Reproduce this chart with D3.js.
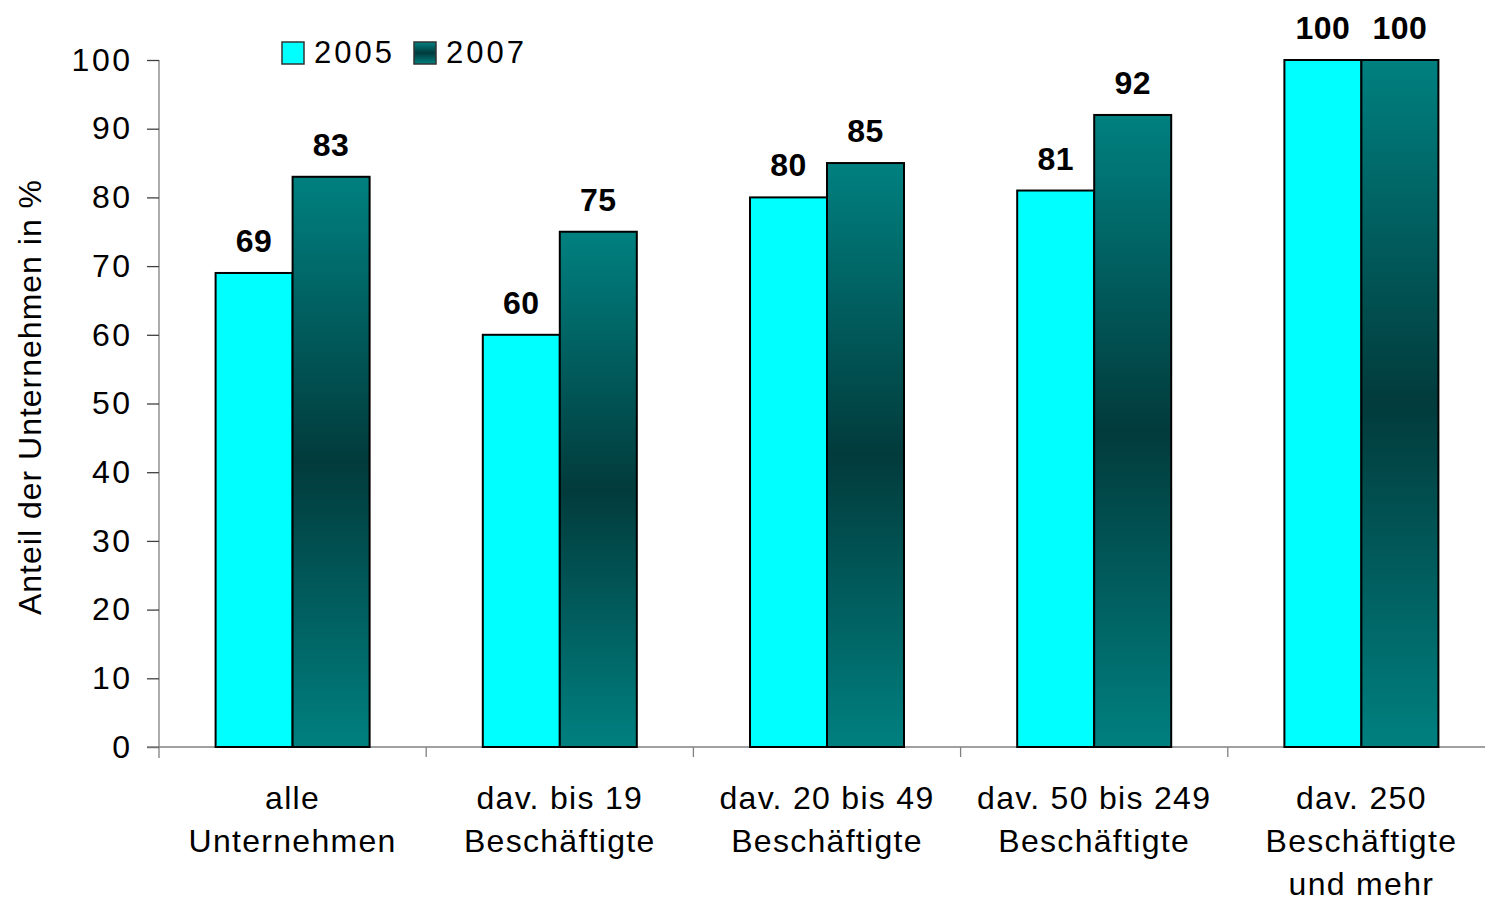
<!DOCTYPE html>
<html lang="de">
<head>
<meta charset="UTF-8">
<title>Anteil der Unternehmen</title>
<script src="https://d3js.org/d3.v7.min.js"></script>
<style>
    body { margin: 0; background: #fff; }
    text { font-family: Arial, "Liberation Sans", sans-serif; fill: #000; }
    .tick text { font-size: 32px; letter-spacing: 2.5px; }
    .val { font-size: 32px; font-weight: bold; letter-spacing: 0.5px; }
    .cat { font-size: 32px; letter-spacing: 1.3px; }
    .legend text { font-size: 31px; letter-spacing: 3px; }
    .ytitle { font-size: 32px; letter-spacing: 1px; }
</style>
</head>
<body>
<svg width="1485" height="899"></svg>
<script>
    // data
    const categories = [
        ["alle", "Unternehmen"],
        ["dav. bis 19", "Beschäftigte"],
        ["dav. 20 bis 49", "Beschäftigte"],
        ["dav. 50 bis 249", "Beschäftigte"],
        ["dav. 250", "Beschäftigte", "und mehr"]
    ];
    const seriesNames = ["2005", "2007"];
    const values2005 = [69, 60, 80, 81, 100];
    const values2007 = [83, 75, 85, 92, 100];
    const yTicks = [0, 10, 20, 30, 40, 50, 60, 70, 80, 90, 100];

    const svg = d3.select("svg");
    // the plot runs a little past the right edge of the picture, as in the original
    const plotLeft = 159, plotRight = 1495, plotTop = 60, plotBottom = 747;

    const defs = svg.append("defs");
    const grad = defs.append("linearGradient")
        .attr("id", "teal")
        .attr("x1", 0).attr("y1", 0).attr("x2", 0).attr("y2", 1);
    grad.append("stop").attr("offset", "0%").attr("stop-color", "#008080");
    grad.append("stop").attr("offset", "50%").attr("stop-color", "#023b3c");
    grad.append("stop").attr("offset", "100%").attr("stop-color", "#008080");

    const x = d3.scaleBand()
        .domain(d3.range(categories.length))
        .range([plotLeft, plotRight])
        .paddingInner(0)
        .paddingOuter(0);

    const x1 = d3.scaleBand()
        .domain(seriesNames)
        .range([0, x.bandwidth()])
        .paddingOuter(0.735)
        .paddingInner(0);

    const y = d3.scaleLinear().domain([0, 100]).range([plotBottom, plotTop]);

    // y axis
    const yAxis = svg.append("g")
        .attr("transform", `translate(${plotLeft},0)`)
        .call(d3.axisLeft(y).tickValues(yTicks).tickSize(12).tickPadding(14.5));
    yAxis.select(".domain").attr("stroke", "#808080").attr("stroke-width", 1.3)
        .attr("d", `M0,${plotTop}V${plotBottom + 11}`);
    yAxis.selectAll(".tick line").attr("stroke", "#404040").attr("stroke-width", 1.3);

    // x axis
    const xAxis = svg.append("g")
        .attr("transform", `translate(0,${plotBottom})`);
    xAxis.append("line")
        .attr("x1", plotLeft - 12).attr("x2", plotRight)
        .attr("stroke", "#808080").attr("stroke-width", 1.5);
    xAxis.selectAll("line.sep")
        .data(d3.range(categories.length))
        .join("line")
        .attr("class", "sep")
        .attr("x1", d => x(d) + x.bandwidth()).attr("x2", d => x(d) + x.bandwidth())
        .attr("y1", 0).attr("y2", 10)
        .attr("stroke", "#808080").attr("stroke-width", 1.3);

    const catLabels = svg.append("g").selectAll("text")
        .data(categories)
        .join("text")
        .attr("class", "cat")
        .attr("text-anchor", "middle")
        .attr("x", (d, i) => x(i) + x.bandwidth() / 2)
        .attr("y", 809);
    catLabels.selectAll("tspan")
        .data(d => d)
        .join("tspan")
        .attr("x", function () { return this.parentNode.getAttribute("x"); })
        .attr("dy", (d, i) => i === 0 ? 0 : 43)
        .text(d => d);

    // bars
    const rows = categories.map((c, i) => [
        {s: "2005", v: values2005[i], i},
        {s: "2007", v: values2007[i], i}
    ]);
    const groups = svg.append("g").selectAll("g")
        .data(rows)
        .join("g")
        .attr("transform", (d, i) => `translate(${x(i)},0)`);

    groups.selectAll("rect")
        .data(d => d)
        .join("rect")
        .attr("x", d => x1(d.s))
        .attr("y", d => y(d.v))
        .attr("width", x1.bandwidth())
        .attr("height", d => y(0) - y(d.v))
        .attr("fill", d => d.s === "2005" ? "#00ffff" : "url(#teal)")
        .attr("stroke", "#000")
        .attr("stroke-width", 2);

    groups.selectAll("text")
        .data(d => d)
        .join("text")
        .attr("class", "val")
        .attr("text-anchor", "middle")
        .attr("x", d => x1(d.s) + x1.bandwidth() / 2)
        .attr("y", d => y(d.v) - 21)
        .text(d => d.v);

    // y title
    svg.append("text")
        .attr("class", "ytitle")
        .attr("transform", `translate(41,397) rotate(-90)`)
        .attr("text-anchor", "middle")
        .text("Anteil der Unternehmen in %");

    // legend
    const legend = svg.append("g").attr("class", "legend");
    const legendX = [282, 414];
    seriesNames.forEach((s, i) => {
        legend.append("rect")
            .attr("x", legendX[i]).attr("y", 42)
            .attr("width", 22).attr("height", 22)
            .attr("fill", i === 0 ? "#00ffff" : "url(#teal)")
            .attr("stroke", "#333").attr("stroke-width", 1.5);
        legend.append("text")
            .attr("x", legendX[i] + 32).attr("y", 63)
            .text(s);
    });
</script>
</body>
</html>
